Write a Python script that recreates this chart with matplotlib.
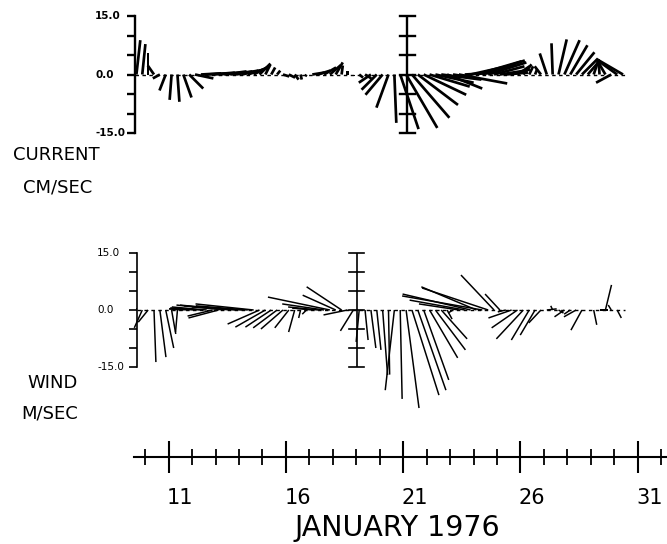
import numpy as np
import matplotlib
matplotlib.use('Agg')
import matplotlib.pyplot as plt
import matplotlib.transforms as mtransforms

# ---------------- data ----------------
# first record (day of January 1976) and sampling step (days)
t_start = 9.625
t_step = 0.25

# current (cm/s): east (u) and north (v) components
cur_u = [1.0, 0.8, 0.0, -1.6, -1.8, -1.6, -0.5, 0.5, 2.1, 3.6,
         4.7, 5.2, 5.7, 5.7, 5.7, 5.7, 5.7, 5.7, 5.4, 4.9,
         4.1, 2.8, 1.3, 1.0, 0.8, 1.6, 1.6, 1.0, 0.3, -0.3,
         3.1, 3.1, 3.1, 2.8, 1.8, 0.3, 0.0, 0.0, 1.0, 1.6,
         -3.1, -3.9, -4.4, -3.1, 0.5, 4.7, 8.0, 9.6, 10.3, 10.9,
         10.3, 9.8, 10.3, 9.0, 6.5, 12.4, 9.0, 11.6, 11.6, 10.9,
         9.8, 7.8, 6.5, 5.7, 4.7, 3.1, 2.1, 1.0, 0.5, -1.6,
         -1.8, -0.3, 2.1, 3.9, 4.4, 4.7, 4.1, 3.1, 1.3, -0.3,
         -2.1, -3.9, -4.7, -6.7]
cur_v = [8.8, 7.8, 5.4, 2.3, -1.0, -4.1, -6.5, -7.0, -5.9, -3.6,
         -1.0, 0.3, 0.3, 0.5, 0.5, 0.8, 0.8, 1.0, 1.2, 1.6,
         2.2, 2.8, 2.6, 1.8, 1.0, -0.5, -0.8, -1.3, -1.3, -0.5,
         0.5, 1.0, 1.8, 2.4, 3.1, 2.3, 1.0, -0.5, -0.8, -1.0,
         -2.1, -3.9, -5.2, -8.5, -12.4, -14.0, -13.7, -11.1, -7.8, -5.2,
         -3.1, -2.1, -1.3, -3.6, -1.0, -2.3, 0.5, 2.6, 3.4, 3.6,
         3.1, 2.1, 1.0, 0.5, 1.3, 2.1, 2.6, 2.1, 1.3, 2.1,
         5.4, 8.0, 9.0, 8.8, 7.5, 5.7, 4.1, 3.6, 3.9, 3.9,
         3.6, -2.1, 3.4, 3.9]

# wind (m/s): east (u) and north (v) components
wind_u = [0.0, -2.1, -2.6, 0.5, 1.6, 2.1, 1.1, -0.5, -3.7, -5.3,
          -6.6, -7.9, -9.2, -6.6, -7.9, -12.6, -13.2, -13.7, -13.2, -13.7,
          -15.3, -8.4, -7.9, -6.8, -6.3, -5.8, -3.7, -1.6, -0.5, -1.1,
          -5.3, -7.9, -11.0, -16.3, -8.7, -9.2, -6.3, -3.4, -0.8, 0.8,
          1.3, 1.1, 1.3, 0.3, -2.4, 0.5, 3.4, 7.1, 7.4, 6.6,
          7.4, 7.9, 6.8, 1.3, -1.3, -10.5, -14.5, -17.9, -14.5, -21.1,
          -17.4, -8.7, -3.9, -2.1, -6.1, -6.8, -7.1, -4.7, -3.9, -3.2,
          2.6, -0.5, 1.3, -2.6, -1.6, -3.2, -2.9, 0.0, 0.8, 2.1,
          1.6, -0.8, 1.1, 0.0]
wind_v = [0.5, -4.7, -3.2, -13.7, -12.4, -10.0, -6.3, -5.8, 0.3, 0.3,
          0.5, 0.5, 0.8, -1.6, -2.1, 1.3, 1.3, 1.1, 0.8, 1.1,
          1.6, -3.7, -4.5, -4.5, -4.7, -5.0, -4.7, -5.8, -2.1, -1.1,
          0.5, 0.8, 1.6, 3.4, 3.9, 6.1, -1.3, -5.5, -8.4, -7.9,
          -10.0, -10.5, -17.1, -17.0, -21.1, -23.4, -25.8, -22.4, -21.1, -18.4,
          -12.6, -10.5, -7.6, -2.4, -0.8, 1.6, 2.6, 4.2, 6.1, 3.7,
          5.8, 9.2, 4.2, -0.5, -2.1, -4.7, -7.6, -7.9, -6.6, -3.4,
          0.3, 1.1, -0.8, -1.8, -1.1, -1.8, -5.3, 0.0, -3.9, 0.0,
          6.6, 1.3, -2.1, 0.0]

vel_ticks = [-15, -10, -5, 0, 5, 10, 15]
vel_labels = {15: '15.0', 0: '0.0', -15: '-15.0'}
day_major = [11, 16, 21, 26, 31]
day_major_labels = ['11', '16', '21', '26', '31']
day_minor = list(range(10, 33))

# ---------------- layout ----------------
W, H = 667, 544
XL = (3.808, 32.251)          # days spanned by the full figure width
fig = plt.figure(figsize=(W / 100, H / 100), dpi=100)


def add_ax(top_px, bot_px):
    ax = fig.add_axes([0, 1 - bot_px / H, 1, (bot_px - top_px) / H])
    ax.set_xlim(*XL)
    ax.patch.set_alpha(0)
    for s in ['top', 'right', 'bottom']:
        ax.spines[s].set_visible(False)
    ax.set_xticks([])
    return ax


def scale_bar(ax, x0, lw):
    ax.plot([x0, x0], [-15, 15], color='black', lw=lw, solid_capstyle='butt')
    for y in vel_ticks:
        ax.plot([x0 - 0.32, x0 + 0.32], [y, y], color='black', lw=lw)


def panel(ax, u, v, axis_x, bar_x, lw, stick_w, bold, label_x):
    t = t_start + t_step * np.arange(len(u))
    ax.spines['left'].set_position(('data', axis_x))
    ax.spines['left'].set_bounds(-15, 15)
    ax.spines['left'].set_linewidth(lw)
    ax.set_yticks(vel_ticks)
    ax.tick_params(axis='y', which='major', direction='out', length=6,
                   width=lw, labelleft=False)
    for val, lab in vel_labels.items():
        ax.text(label_x, val, lab, ha='left', va='center', fontsize=7.5,
                fontweight='bold' if bold else 'normal', family='DejaVu Sans')
    ax.plot([axis_x, t[-1] + 0.1], [0, 0], color='black', lw=1.0,
            ls=(0, (2.5, 2.5)))
    scale_bar(ax, bar_x, lw)
    ax.quiver(t, np.zeros_like(t), np.array(u), np.array(v),
              angles='uv', scale_units='y', scale=1, units='dots',
              width=stick_w, headwidth=0, headlength=0, headaxislength=0,
              pivot='tail', color='black', minlength=0)


ax_c = add_ax(0, 145)
ax_c.set_ylim(-(145 - 74.5) / 3.9, 74.5 / 3.9)
panel(ax_c, cur_u, cur_v, 9.565, 21.165, 1.7, 2.7, True, 7.86)

ax_w = add_ax(230, 430)
ax_w.set_ylim(-120 / 3.8, 80 / 3.8)
panel(ax_w, wind_u, wind_v, 9.65, 19.03, 1.2, 1.5, False, 7.95)

# time axis
ax_t = fig.add_axes([0, 1 - 457 / H, 1, 0.02])
ax_t.set_xlim(*XL)
ax_t.patch.set_alpha(0)
for s in ['top', 'right', 'left']:
    ax_t.spines[s].set_visible(False)
ax_t.spines['bottom'].set_bounds(9.54, XL[1])
ax_t.spines['bottom'].set_linewidth(1.5)
ax_t.set_yticks([])
ax_t.set_xticks(day_major)
ax_t.set_xticks(day_minor, minor=True)
ax_t.tick_params(axis='x', which='major', direction='inout', length=23,
                 width=1.5, labelbottom=False)
ax_t.tick_params(axis='x', which='minor', direction='inout', length=11.5,
                 width=1.3, labelbottom=False)
trans = mtransforms.blended_transform_factory(ax_t.transData, fig.transFigure)
for d, lab in zip(day_major, day_major_labels):
    ax_t.text(d + 0.5, 1 - 498.5 / H, lab, transform=trans, ha='center',
              va='center', fontsize=15, family='DejaVu Sans')

fig.text(397 / W, 1 - 528 / H, 'JANUARY 1976', ha='center', va='center',
         fontsize=20.5, family='DejaVu Sans')

for txt, x, y in [('CURRENT', 56, 155), ('CM/SEC', 58, 187),
                  ('WIND', 53, 383), ('M/SEC', 50, 413)]:
    fig.text(x / W, 1 - y / H, txt, ha='center', va='center', fontsize=13,
             family='DejaVu Sans')

fig.savefig('out.png', dpi=100)
